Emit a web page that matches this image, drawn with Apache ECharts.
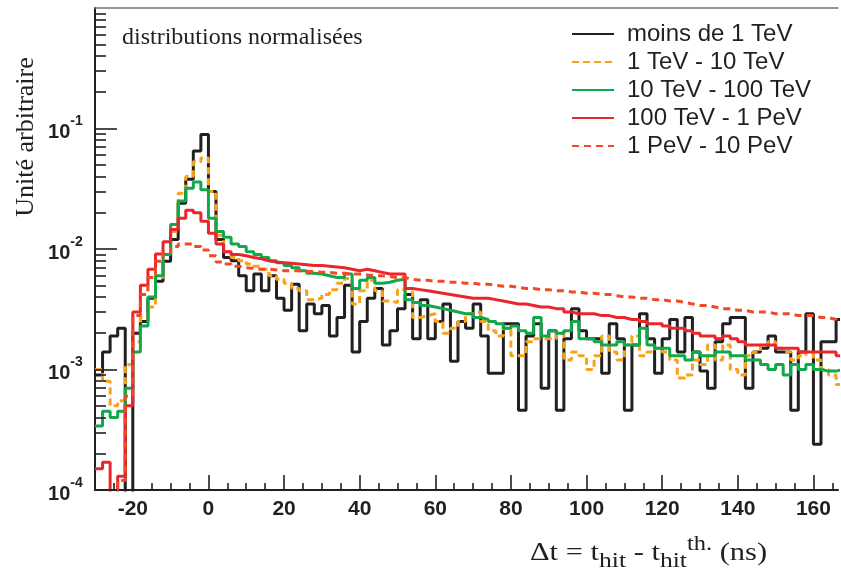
<!DOCTYPE html>
<html>
<head>
<meta charset="utf-8">
<script src="https://cdn.jsdelivr.net/npm/echarts@6/dist/echarts.min.js"></script>
<style>
  html, body { margin: 0; padding: 0; background: #fff; }
  #main { width: 841px; height: 577px; }
</style>
</head>
<body>
<div id="main"></div>
<script>
// histogrammes de 2 ns, bord gauche du premier bin a -30 ns
var binStart = -30;
var binWidth = 2;
var unit = 1e-3; // les valeurs ci-dessous sont en unites de 1e-3

var seriesNames = ['moins de 1 TeV', '1 TeV - 10 TeV', '10 TeV - 100 TeV', '100 TeV - 1 PeV', '1 PeV - 10 PeV'];

var xTicks = [-20, 0, 20, 40, 60, 80, 100, 120, 140, 160];
var xMinorTicks = [-25, -15, -10, -5, 5, 10, 15, 25, 30, 35, 45, 50, 55, 65, 70, 75, 85,
  90, 95, 105, 110, 115, 125, 130, 135, 145, 150, 155, 165];
var yTicks = [1e-4, 1e-3, 1e-2, 1e-1];
var yMinorTicks = [2e-4, 3e-4, 4e-4, 5e-4, 6e-4, 7e-4, 8e-4, 9e-4,
  2e-3, 3e-3, 4e-3, 5e-3, 6e-3, 7e-3, 8e-3, 9e-3,
  2e-2, 3e-2, 4e-2, 5e-2, 6e-2, 7e-2, 8e-2, 9e-2,
  2e-1, 3e-1, 4e-1, 5e-1, 6e-1, 7e-1, 8e-1, 9e-1];

// moins de 1 TeV
var below1TeV = [
  0.9, 1.4, 1.9, 2.2, 0.05, 2.0, 2.5, 3.9, 5.4, 7.9,
  12, 24, 38, 65, 89, 30, 12, 8.5, 8.0, 6.0,
  4.5, 6.2, 4.5, 6.0, 3.9, 3.1, 5.1, 2.1, 3.5, 2.9,
  3.4, 1.9, 2.7, 5.0, 1.4, 2.5, 3.9, 4.7, 1.6, 2.1,
  3.2, 4.2, 1.8, 3.8, 1.8, 2.5, 3.5, 1.17, 2.5, 2.2,
  3.5, 1.9, 0.93, 0.93, 2.4, 2.4, 0.46, 1.9, 2.4, 0.7,
  2.1, 0.46, 1.8, 3.2, 2.1, 1.8, 1.8, 0.93, 2.4, 1.8,
  0.46, 1.6, 2.9, 1.8, 0.93, 1.8, 2.6, 1.4, 2.7, 1.4,
  0.97, 0.7, 1.7, 2.4, 2.7, 2.7, 0.7, 1.4, 1.5, 1.9,
  1.4, 1.4, 0.46, 1.4, 2.9, 0.24, 1.7, 1.7, 2.6
];
// 1 TeV - 10 TeV
var tev1to10 = [
  1.0, 0.8, 0.5, 0.55, 1.1, 1.7, 2.7, 3.3, 5.8, 9.0,
  14, 29, 40, 53, 57, 30, 13, 9.5, 8.5, 8.0,
  7.5, 7.2, 6.8, 6.0, 5.6, 5.2, 4.7, 4.5, 3.8, 3.9,
  4.2, 4.6, 5.2, 5.7, 3.5, 4.5, 5.5, 4.5, 3.7, 3.6,
  4.6, 4.4, 2.7, 2.8, 2.9, 2.5, 2.0, 2.2, 2.5, 2.9,
  3.0, 2.5, 2.1, 1.9, 2.2, 1.3, 1.3, 1.7, 1.8, 1.8,
  1.8, 2.0, 1.2, 1.4, 1.3, 1.0, 1.3, 1.9, 1.4, 1.2,
  1.6, 1.9, 1.3, 1.4, 1.5, 1.4, 1.2, 0.85, 0.9, 1.2,
  1.1, 1.6, 1.2, 1.6, 1.0, 0.9, 1.3, 1.4, 1.6, 1.7,
  1.5, 1.4, 1.2, 1.3, 1.4, 1.2, 1.0, 0.9, 0.75
];
// 10 TeV - 100 TeV
var tev10to100 = [
  0.34, 0.45, 0.4, 0.45, 0.7, 1.4, 2.3, 4.0, 6.0, 9.0,
  16, 25, 32, 36, 31, 18, 14, 12.5, 11, 10.5,
  9.5, 9.0, 8.5, 8.0, 7.7, 7.3, 7.0, 6.6, 6.3, 6.2,
  6.0, 5.8, 5.8, 6.2, 4.7, 5.5, 5.8, 5.2, 5.3, 5.5,
  5.6, 3.8, 3.6, 3.4, 3.3, 3.2, 3.1, 3.0, 2.9, 2.9,
  2.7, 2.6, 2.5, 2.4, 2.2, 2.3, 2.1, 2.0, 2.7, 1.9,
  2.1, 2.0, 2.1, 2.5, 1.8, 1.8, 1.7, 1.6, 1.6, 1.7,
  1.6, 1.6, 2.2, 1.6, 1.5, 1.5, 1.3, 1.3, 1.2, 1.4,
  1.3, 1.3, 1.4, 1.4, 1.3, 1.3, 1.2, 1.2, 1.1, 1.0,
  1.1, 0.9, 1.1, 1.0, 1.1, 1.0, 0.97, 0.97, 1.0
];
// 100 TeV - 1 PeV
var tev100toPev1 = [
  0.15, 0.17, 0.09, 0.13, 0.5, 3.0, 5.0, 6.8, 9.1, 11.5,
  14.5, 18, 21, 20, 17, 13.5, 11, 9.5, 9.0, 8.8,
  8.5, 8.3, 8.0, 7.8, 7.7, 7.6, 7.5, 7.4, 7.3, 7.3,
  7.2, 7.1, 7.0, 6.8, 6.6, 6.8, 6.6, 6.4, 6.2, 6.2,
  6.2, 4.7, 4.6, 4.5, 4.4, 4.3, 4.2, 4.1, 4.0, 3.9,
  3.9, 3.9, 3.8, 3.7, 3.6, 3.5, 3.5, 3.4, 3.3, 3.3,
  3.2, 3.2, 3.0, 2.9, 2.9, 2.9, 2.8, 2.8, 2.7, 2.7,
  2.6, 2.6, 2.5, 2.4, 2.4, 2.3, 2.2, 2.2, 2.1, 2.0,
  1.9, 1.9, 1.8, 1.9, 1.8, 1.7, 1.6, 1.6, 1.6, 1.6,
  1.5, 1.5, 1.5, 1.4, 1.4, 1.4, 1.4, 1.4, 1.3
];
// 1 PeV - 10 PeV
var pev1to10 = [
  0.05, 0.05, 0.05, 0.12, 0.6, 2.8, 4.2, 5.8, 7.9, 9.3,
  10.5, 11, 11, 10.5, 9.8, 8.8, 7.8, 7.5, 7.2, 7.0,
  6.9, 6.8, 6.8, 6.7, 6.6, 6.6, 6.6, 6.5, 6.5, 6.4,
  6.4, 6.3, 6.3, 6.2, 6.2, 6.1, 6.0, 6.0, 5.9, 5.8,
  5.8, 5.6, 5.5, 5.5, 5.4, 5.4, 5.3, 5.3, 5.2, 5.2,
  5.1, 5.1, 5.0, 4.9, 4.9, 4.8, 4.7, 4.7, 4.6, 4.6,
  4.5, 4.5, 4.4, 4.4, 4.3, 4.3, 4.2, 4.2, 4.1, 4.0,
  4.0, 3.9, 3.9, 3.8, 3.8, 3.7, 3.7, 3.6, 3.5, 3.4,
  3.4, 3.3, 3.2, 3.2, 3.1, 3.1, 3.0, 3.0, 3.0, 2.9,
  2.9, 2.9, 2.8, 2.8, 2.8, 2.7, 2.7, 2.6, 2.5
];

var Chart = null;
var ink = '#231f20';
var xMin = -30;
var xMax = 166.5;
var yMin = 1e-4;
var yMax = 1;

// taille de la zone de trace (pour convertir la longueur des graduations)
var plotW = 841 - 95 - 3;
var plotH = 577 - 8 - 87;
var pxPerNs = plotW / (xMax - xMin);
var pxPerDecade = plotH / (Math.log10(yMax) - Math.log10(yMin));

// transforme les valeurs en points [bord gauche, valeur] pour un trace en escalier
function toSteps(vals) {
  var pts = [];
  for (var i = 0; i < vals.length; i++) {
    pts.push([binStart + i * binWidth, vals[i] * unit]);
  }
  pts.push([binStart + vals.length * binWidth, vals[vals.length - 1] * unit]);
  return pts;
}

// graduations interieures (style ROOT) en segments markLine, places par les echelles des axes
function tickLines() {
  var lines = [];
  function xt(list, len) {
    var top = yMin * Math.pow(10, len / pxPerDecade);
    list.forEach(function (v) { lines.push([{ coord: [v, yMin] }, { coord: [v, top] }]); });
  }
  function yt(list, len) {
    var right = xMin + len / pxPerNs;
    list.forEach(function (v) { lines.push([{ coord: [xMin, v] }, { coord: [right, v] }]); });
  }
  xt(xTicks, 15);
  xt(xMinorTicks, 7);
  yt(yTicks, 22);
  yt(yMinorTicks, 11);
  return lines;
}

function makeSeries(name, vals, color, dash) {
  return {
    name: name,
    type: 'line',
    step: 'end',
    symbol: 'none',
    silent: true,
    clip: true,
    data: toSteps(vals),
    itemStyle: { color: color },
    lineStyle: { color: color, width: 3, type: dash || 'solid' }
  };
}

function getOption() {
  var first = makeSeries(seriesNames[0], below1TeV, '#231f20');
  first.markLine = {
    silent: true,
    symbol: ['none', 'none'],
    animation: false,
    label: { show: false },
    emphasis: { disabled: true },
    lineStyle: { color: ink, width: 1.6, type: 'solid' },
    data: tickLines()
  };
  var option = {
    animation: false,
    backgroundColor: '#fff',
    grid: { left: 95, right: 3, top: 8, bottom: 87 },
    legend: {
      orient: 'vertical',
      left: 566,
      top: 17,
      itemWidth: 42,
      itemHeight: 12,
      itemGap: 4,
      data: seriesNames,
      itemStyle: { opacity: 0 },
      textStyle: { fontFamily: 'Liberation Sans', fontSize: 24, color: ink, lineHeight: 24, padding: [0, 0, 0, 8] }
    },
    xAxis: [{
      type: 'value',
      min: xMin,
      max: xMax,
      position: 'bottom',
      axisLine: { onZero: false, lineStyle: { color: ink, width: 2 } },
      axisTick: { show: false },
      axisLabel: {
        customValues: xTicks, margin: 9,
        fontFamily: 'Liberation Sans', fontSize: 21, fontWeight: 'bold', color: ink
      },
      splitLine: { show: false }
    }, {
      // cadre du haut
      type: 'value',
      min: xMin,
      max: xMax,
      position: 'top',
      axisLine: { show: true, onZero: false, lineStyle: { color: '#777', width: 1.5 } },
      axisTick: { show: false },
      axisLabel: { show: false },
      splitLine: { show: false }
    }],
    yAxis: {
      type: 'log',
      logBase: 10,
      min: yMin,
      max: yMax,
      position: 'left',
      axisLine: { show: true, onZero: false, lineStyle: { color: ink, width: 2 } },
      axisTick: { show: false },
      minorTick: { show: false },
      axisLabel: {
        customValues: yTicks,
        margin: 12,
        formatter: function (v) {
          return '{a|10}{b|' + Math.round(Math.log10(v)) + '}{c| }';
        },
        rich: {
          a: { fontFamily: 'Liberation Sans', fontSize: 20, fontWeight: 'bold', color: ink, lineHeight: 20, verticalAlign: 'bottom' },
          b: { fontFamily: 'Liberation Sans', fontSize: 14, fontWeight: 'bold', color: ink, lineHeight: 8, verticalAlign: 'top' },
          c: { fontSize: 1, lineHeight: 28 }
        }
      },
      splitLine: { show: false }
    },
    graphic: [{
      type: 'text',
      left: 122,
      top: 26,
      style: { text: 'distributions normalisées', fontFamily: 'Liberation Serif', fontSize: 24, fill: ink }
    }, {
      type: 'text',
      x: 26,
      y: 137,
      rotation: Math.PI / 2,
      style: { text: 'Unité arbitraire', fontFamily: 'Liberation Serif', fontSize: 26, fill: ink, align: 'center', verticalAlign: 'middle' }
    }, {
      type: 'text',
      x: 530,
      y: 553,
      scaleX: 1.22,
      style: {
        text: '{n|Δt = t}{s|hit}{n| - t}{s|hit}{p|th.}{n| (ns)}',
        verticalAlign: 'middle',
        fill: ink,
        rich: {
          n: { fontFamily: 'Liberation Serif', fontSize: 25, lineHeight: 37, verticalAlign: 'middle', fill: ink },
          s: { fontFamily: 'Liberation Serif', fontSize: 21, lineHeight: 19, verticalAlign: 'bottom', fill: ink },
          p: { fontFamily: 'Liberation Serif', fontSize: 20, lineHeight: 11, verticalAlign: 'top', fill: ink }
        }
      }
    }],
    series: [
      first,
      makeSeries(seriesNames[1], tev1to10, '#f7a21b', [7, 4]),
      makeSeries(seriesNames[2], tev10to100, '#10a84a'),
      makeSeries(seriesNames[3], tev100toPev1, '#e9262c'),
      makeSeries(seriesNames[4], pev1to10, '#ef4a23', [7, 5])
    ]
  };
  return option;
}

Chart = echarts.init(document.getElementById('main'), null, { renderer: 'canvas' });
Chart.setOption(getOption());
</script>
</body>
</html>
